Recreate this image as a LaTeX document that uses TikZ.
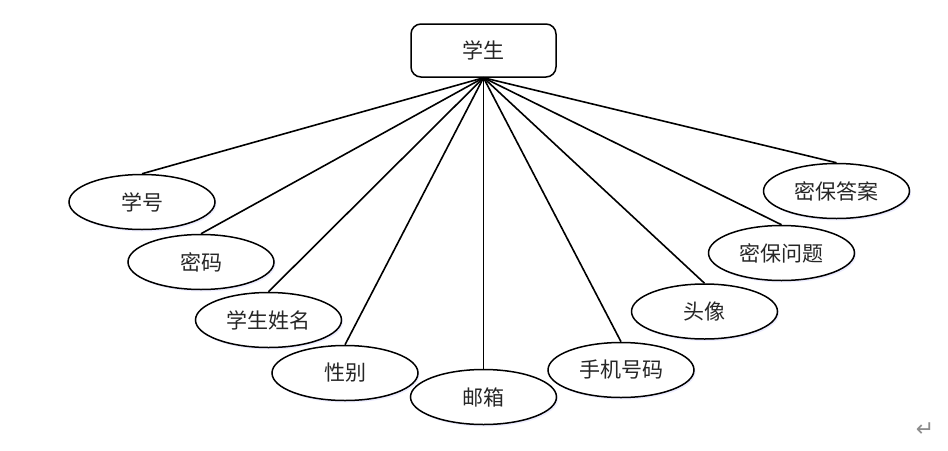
\documentclass[tikz,border=0pt]{standalone}
\usepackage{fontspec}
\newfontfamily\cjk{Noto Sans CJK SC}
\newfontfamily\symfont{DejaVu Sans}
\usetikzlibrary{shapes.geometric,shadows}
\begin{document}
\begin{tikzpicture}[x=1pt,y=-1pt,
  ent/.style={draw,line width=1.5pt,rounded corners=10pt,minimum width=145pt,minimum height=53pt,inner sep=0pt,fill=white,
    font=\cjk\fontsize{21}{21}\selectfont,text=black!85},
  attr/.style={ellipse,draw,line width=1.5pt,minimum width=146pt,minimum height=55pt,inner sep=0pt,fill=white,
    font=\cjk\fontsize{21}{21}\selectfont,text=black!85,
    drop shadow={shadow xshift=1.5pt,shadow yshift=-2pt,fill=blue!12,opacity=0.6}},
  link/.style={line width=1.6pt}]
\useasboundingbox (0,0) rectangle (948,450);
\node[ent] (stu) at (483.5,50.5) {学生};
\node[attr] (a1) at (142,202) {学号};
\node[attr] (a2) at (201,262) {密码};
\node[attr] (a3) at (268.5,320) {学生姓名};
\node[attr] (a4) at (345,373) {性别};
\node[attr] (a5) at (483.5,397) {邮箱};
\node[attr] (a6) at (621,370) {手机号码};
\node[attr] (a7) at (704.5,311.5) {头像};
\node[attr] (a8) at (781.5,253) {密保问题};
\node[attr] (a9) at (836.5,191) {密保答案};
\foreach \n in {a1,a2,a3,a4,a5,a6,a7,a8,a9}
  \draw[link] (stu.south) -- (\n.north);
\node[text=black!45,font=\symfont\fontsize{22}{22}\selectfont,inner sep=0pt] (ret) at (925,430) {↵};
\end{tikzpicture}
\end{document}
